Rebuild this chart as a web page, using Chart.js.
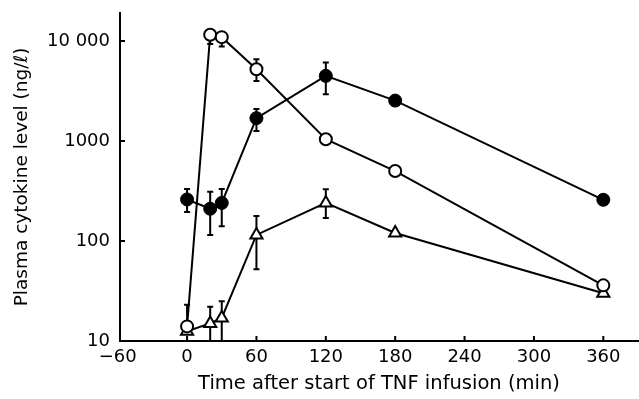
<!DOCTYPE html>
<html lang="en">
<head>
<meta charset="UTF-8">
<title>Plasma cytokine levels after TNF infusion</title>
<script src="https://cdn.jsdelivr.net/npm/chart.js"></script>
<style>
  html, body { margin: 0; padding: 0; background: #fff; overflow: hidden; }
  canvas { display: block; }
</style>
</head>
<body>
<canvas id="chart" width="639" height="399"></canvas>
<script>
  // sampling times (min after start of infusion)
  const times = [0, 20, 30, 60, 120, 180, 360];

  // filled circles
  const filledLevel = [260, 210, 240, 1690, 4470, 2530, 258];
  const filledUpper = [330, 310, 330, 2090, 6070, null, null];
  const filledLower = [195, 115, 140, 1260, 2930, null, null];

  // open circles
  const openLevel = [14, 11500, 10900, 5200, 1040, 500, 36];
  const openUpper = [23, null, null, 6560, null, null, null];
  const openLower = [null, 9300, 8800, 3980, null, null, null];

  // open triangles
  const triLevel = [12.5, 15, 17, 115, 240, 120, 30];
  const triUpper = [null, 22, 25, 178, 329, null, null];
  const triLower = [null, 10, 10, 52, 170, null, null];

  const xTicks = [-60, 0, 60, 120, 180, 240, 300, 360];
  const yTicks = [10, 100, 1000, 10000];
  const yTickLabels = ['10', '100', '1000', '10 000'];

  const font = 'DejaVu Sans';

  function points(vals) {
    return vals.map((v, i) => ({ x: times[i], y: v }));
  }

  function noPad(s) {
    s.paddingLeft = 0;
    s.paddingRight = 0;
    s.paddingTop = 0;
    s.paddingBottom = 0;
  }

  // error bars + inward tick marks
  const extras = {
    id: 'extras',
    beforeDatasetsDraw(chart) {
      const { ctx, scales: { x, y } } = chart;
      ctx.save();
      ctx.strokeStyle = '#000';
      ctx.lineWidth = 2;
      chart.data.datasets.forEach(ds => {
        ds.data.forEach((p, i) => {
          const px = x.getPixelForValue(p.x);
          [ds.errUp[i], ds.errLo[i]].forEach(e => {
            if (e == null) return;
            const py = y.getPixelForValue(e);
            ctx.beginPath();
            ctx.moveTo(px, y.getPixelForValue(p.y));
            ctx.lineTo(px, py);
            ctx.moveTo(px - 3, py);
            ctx.lineTo(px + 3, py);
            ctx.stroke();
          });
        });
      });
      ctx.restore();
    },
    afterDraw(chart) {
      const { ctx, scales: { x, y }, chartArea } = chart;
      ctx.save();
      ctx.strokeStyle = '#000';
      ctx.lineWidth = 2;
      ctx.beginPath();
      xTicks.forEach(t => {
        if (t <= x.min) return;
        const px = x.getPixelForValue(t);
        ctx.moveTo(px, chartArea.bottom);
        ctx.lineTo(px, chartArea.bottom - 5);
      });
      yTicks.forEach(t => {
        if (t <= y.min) return;
        const py = y.getPixelForValue(t);
        ctx.moveTo(chartArea.left, py);
        ctx.lineTo(chartArea.left + 5, py);
      });
      ctx.stroke();
      ctx.restore();
    }
  };

  new Chart(document.getElementById('chart'), {
    type: 'line',
    data: {
      datasets: [
        {
          label: 'filled',
          data: points(filledLevel),
          errUp: filledUpper,
          errLo: filledLower,
          borderColor: '#000',
          borderWidth: 2,
          pointStyle: 'circle',
          pointRadius: 6.5,
          pointBackgroundColor: '#000',
          pointBorderColor: '#000',
          pointBorderWidth: 1
        },
        {
          label: 'open',
          data: points(openLevel),
          errUp: openUpper,
          errLo: openLower,
          borderColor: '#000',
          borderWidth: 2,
          pointStyle: 'circle',
          pointRadius: 6,
          pointBackgroundColor: '#fff',
          pointBorderColor: '#000',
          pointBorderWidth: 2
        },
        {
          label: 'triangle',
          data: points(triLevel),
          errUp: triUpper,
          errLo: triLower,
          borderColor: '#000',
          borderWidth: 2,
          pointStyle: 'triangle',
          pointRadius: 7,
          pointBackgroundColor: '#fff',
          pointBorderColor: '#000',
          pointBorderWidth: 2
        }
      ]
    },
    options: {
      responsive: false,
      animation: false,
      clip: false,
      layout: { autoPadding: false, padding: { top: 13, right: 1, left: 0, bottom: 3 } },
      plugins: {
        legend: { display: false },
        tooltip: { enabled: false }
      },
      scales: {
        x: {
          type: 'linear',
          min: -58,
          max: 390,
          afterBuildTicks: s => { s.ticks = xTicks.map(v => ({ value: v })); },
          afterFit: s => { s.height = 55; noPad(s); },
          grid: { display: false, drawTicks: false },
          border: { display: true, color: '#000', width: 2 },
          ticks: {
            autoSkip: false,
            maxRotation: 0,
            padding: 6,
            color: '#000',
            font: { family: font, size: 18 },
            callback: v => (v < 0 ? '\u2212' + Math.abs(v) : String(v))
          },
          title: {
            display: true,
            text: 'Time after start of TNF infusion (min)',
            color: '#000',
            font: { family: font, size: 19.5 },
            padding: { top: 0, bottom: 0 }
          }
        },
        y: {
          type: 'logarithmic',
          min: 10,
          max: 19000,
          afterBuildTicks: s => { s.ticks = yTicks.map(v => ({ value: v })); },
          afterFit: s => { s.width = 120; noPad(s); },
          grid: { display: false, drawTicks: false },
          border: { display: true, color: '#000', width: 2 },
          ticks: {
            padding: 10,
            color: '#000',
            font: { family: font, size: 18 },
            callback: v => {
              const i = yTicks.indexOf(v);
              return i >= 0 ? yTickLabels[i] : '';
            }
          },
          title: {
            display: true,
            text: 'Plasma cytokine level (ng/\u2113)',
            color: '#000',
            font: { family: font, size: 18.5 },
            padding: { top: 11, bottom: 0 }
          }
        }
      }
    },
    plugins: [extras]
  });
</script>
</body>
</html>
